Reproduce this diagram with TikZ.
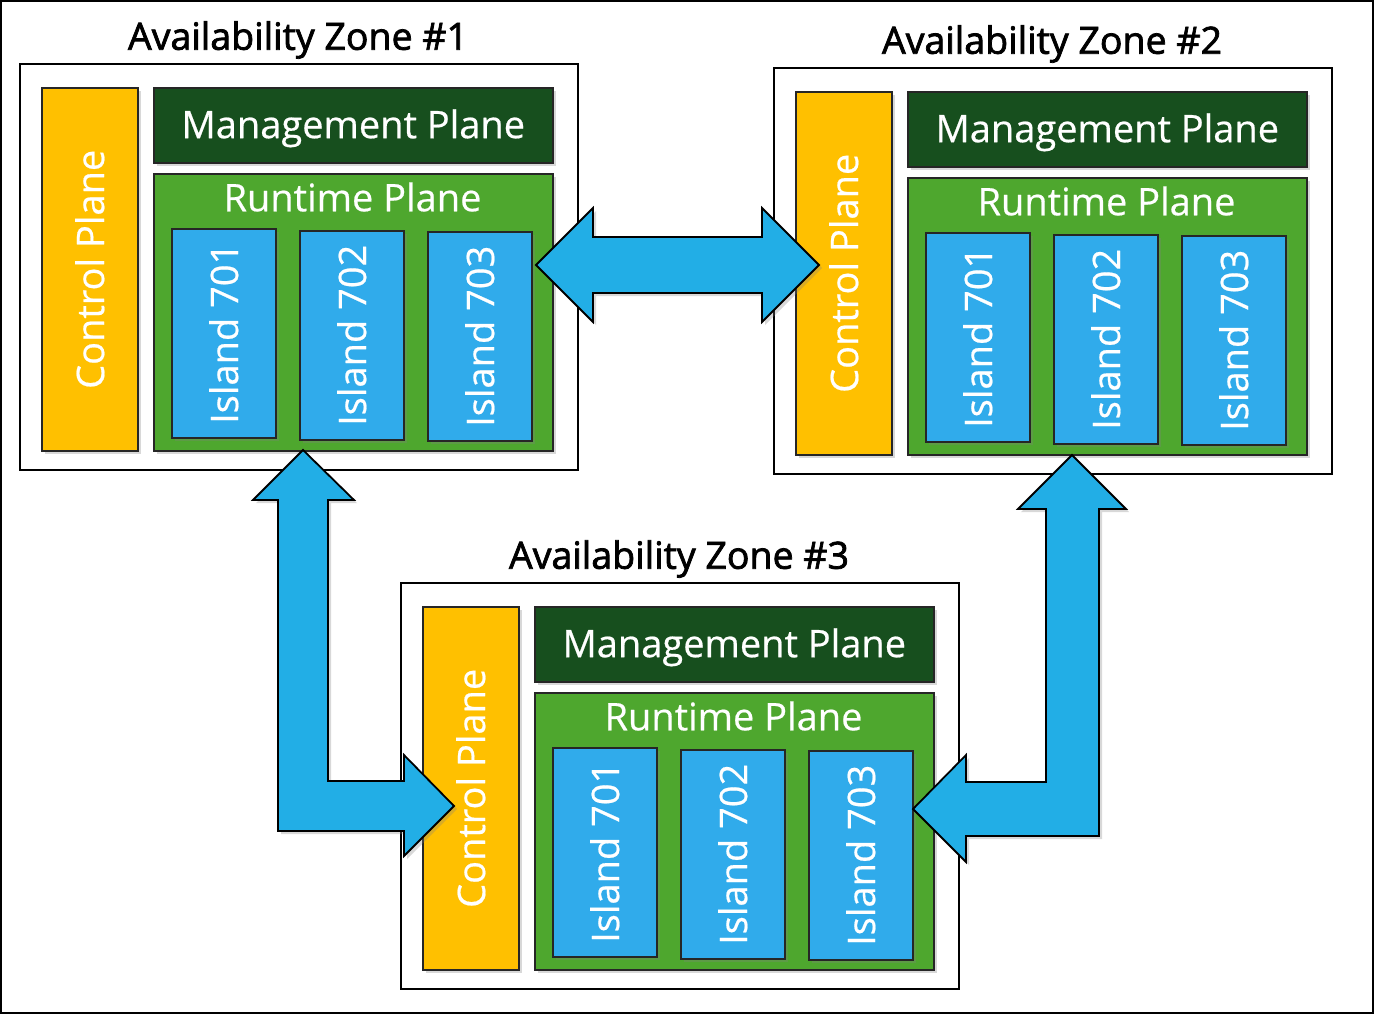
\documentclass[tikz,border=0pt]{standalone}
\usepackage{fontspec}
\setmainfont{Open Sans}[FakeBold=0.5]
\newfontfamily\titlefont[FakeBold=2]{Open Sans}
\usetikzlibrary{shadows}
\definecolor{cpY}{HTML}{FFC000}
\definecolor{mpG}{HTML}{174F1E}
\definecolor{rpG}{HTML}{4EA72E}
\definecolor{isB}{HTML}{30ABEB}
\definecolor{arB}{HTML}{22AEE6}
\tikzset{
  shad/.style={drop shadow={opacity=0.3, shadow xshift=3pt, shadow yshift=-3pt}},
  zonebox/.style={draw=black, line width=2pt, fill=white, inner sep=0pt, anchor=north west,
    minimum width=558pt, minimum height=406pt},
  ztitle/.style={font=\titlefont\fontsize{37.5}{42}\selectfont, text=black, inner sep=0pt},
  wtext/.style={text=white, font=\fontsize{38}{42}\selectfont, inner sep=0pt},
  vtext/.style={wtext, rotate=90},
  basebox/.style={draw=black!85, line width=1.6pt, inner sep=0pt, anchor=north west, shad},
  cpbox/.style={basebox, fill=cpY, minimum width=96pt, minimum height=363pt},
  mpbox/.style={basebox, fill=mpG, minimum width=399pt, minimum height=75pt},
  rpbox/.style={basebox, fill=rpG, minimum width=399pt, minimum height=277pt},
  isbox/.style={basebox, fill=isB, minimum width=104pt, minimum height=209pt},
  bigarrow/.style={fill=arB, draw=black, line width=1.8pt, line join=miter, shad},
}
\newcommand{\zonedraw}[4]{%
  \begin{scope}[shift={(#2,#3)}]
    \node[zonebox] (#1) at (0,0) {};
    \node[ztitle] (#1t) at (279,-23) {Availability Zone \##4};
    \node[cpbox, label={[vtext]center:Control Plane}] (#1cp) at (22,24) {};
    \node[mpbox, label={[wtext, yshift=-3pt]center:Management Plane}] (#1mp) at (134,24) {};
    \node[rpbox] (#1rp) at (134,110) {};
    \node[wtext] (#1rpt) at (333.5,134) {Runtime Plane};
    \node[isbox, label={[vtext]center:Island 701}] (#1ia) at (152,165) {};
    \node[isbox, label={[vtext]center:Island 702}] (#1ib) at (280,167) {};
    \node[isbox, label={[vtext]center:Island 703}] (#1ic) at (408,168) {};
  \end{scope}}
\begin{document}
\begin{tikzpicture}[x=1pt,y=-1pt]
  \useasboundingbox (0,0) rectangle (1375,1014);
  \fill[white] (0,0) rectangle (1375,1014);
  \draw[line width=2pt] (1,1) rectangle (1373,1013);
  \zonedraw{za}{19}{63}{1}
  \zonedraw{zb}{773}{67}{2}
  \zonedraw{zc}{400}{582}{3}
  % horizontal double arrow
  \draw[bigarrow] (536,265) -- (593,208) -- (593,237) -- (762,237) -- (762,208)
    -- (819,265) -- (762,322) -- (762,293) -- (593,293) -- (593,322) -- cycle;
  % left L arrow
  \draw[bigarrow] (303,450) -- (354,500) -- (328,500) -- (328,781) -- (404,781) -- (404,755)
    -- (454,806) -- (404,856) -- (404,831) -- (278,831) -- (278,500) -- (253,500) -- cycle;
  % right L arrow
  \draw[bigarrow] (1072,455) -- (1126,509) -- (1099,509) -- (1099,836) -- (966,836) -- (966,862)
    -- (913,809) -- (966,755) -- (966,782) -- (1046,782) -- (1046,509) -- (1018,509) -- cycle;
\end{tikzpicture}
\end{document}
